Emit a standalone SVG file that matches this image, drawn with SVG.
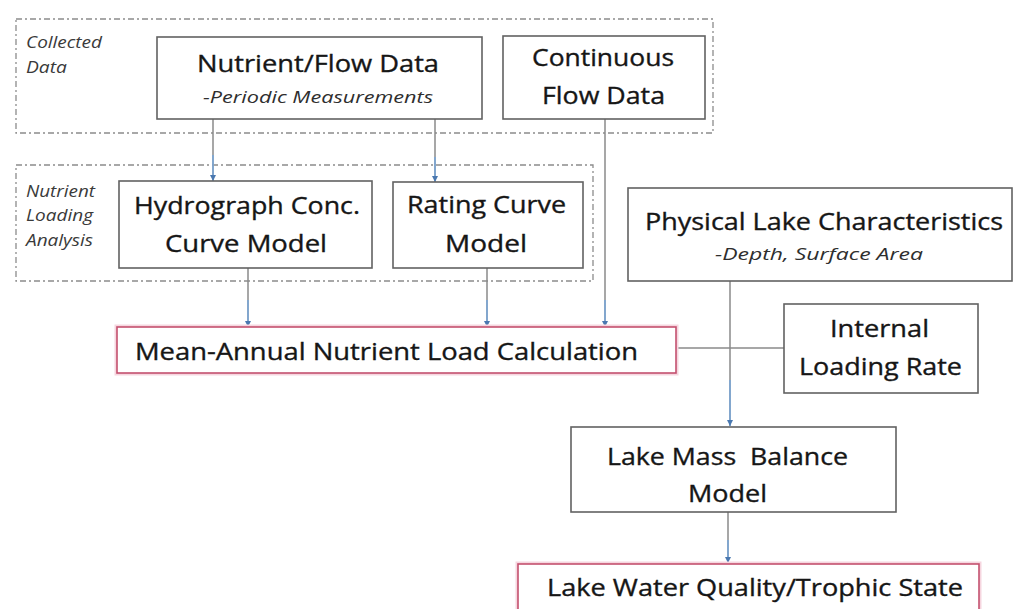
<svg xmlns="http://www.w3.org/2000/svg" width="1013" height="609" viewBox="0 0 1013 609">
<style>
.grp{fill:none;stroke:#8c8c8c;stroke-width:1.3;stroke-dasharray:6 3 2 3}
.box{fill:#fff;stroke:#626262;stroke-width:1.6}
.pbox{fill:#fff;stroke:#c4506e;stroke-width:1.6}
.glow{fill:none;stroke:#f6d6df;stroke-width:5}
.t{font-family:"Open Sans","Noto Sans",sans-serif;font-size:24px;fill:#161616;stroke:#161616;stroke-width:0.35}
.s{font-family:"Open Sans","Noto Sans",sans-serif;font-size:15.5px;font-style:italic;fill:#2e2e2e}
.lbl{font-family:"Open Sans","Noto Sans",sans-serif;font-size:17px;font-style:italic;fill:#3a3a3a}
.ln{fill:none;stroke:#8a8a8a;stroke-width:1.5}
.bl{fill:none;stroke:#7aa7d8;stroke-width:1.6}
</style>
<defs>
<marker id="ah" viewBox="0 0 6 6" refX="6" refY="3" markerWidth="6" markerHeight="6" markerUnits="userSpaceOnUse" orient="auto">
<path d="M0,0 L6,3 L0,6 Z" fill="#4a78b0"/>
</marker>
</defs>
<rect width="1013" height="609" fill="#fff"/>

<g id="group-collected">
<rect class="grp" x="16" y="19" width="697" height="114"/>
<text class="lbl" x="26" y="48" textLength="76" lengthAdjust="spacingAndGlyphs">Collected</text>
<text class="lbl" x="26" y="73" textLength="41" lengthAdjust="spacingAndGlyphs">Data</text>
</g>
<g id="group-loading">
<rect class="grp" x="16" y="165" width="577" height="116"/>
<text class="lbl" x="26" y="197" textLength="69" lengthAdjust="spacingAndGlyphs">Nutrient</text>
<text class="lbl" x="26" y="221" textLength="67" lengthAdjust="spacingAndGlyphs">Loading</text>
<text class="lbl" x="26" y="246" textLength="67" lengthAdjust="spacingAndGlyphs">Analysis</text>
</g>

<g id="connectors">
<path class="ln" d="M213,119 V181"/>
<path class="bl" d="M213,155 V181" marker-end="url(#ah)"/>
<path class="ln" d="M435,119 V182"/>
<path class="bl" d="M435,157 V182" marker-end="url(#ah)"/>
<path class="ln" d="M605,119 V327"/>
<path class="bl" d="M605,300 V327" marker-end="url(#ah)"/>
<path class="ln" d="M248,268 V327"/>
<path class="bl" d="M248,300 V327" marker-end="url(#ah)"/>
<path class="ln" d="M487,267 V327"/>
<path class="bl" d="M487,300 V327" marker-end="url(#ah)"/>
<path class="ln" d="M730,281 V426"/>
<path class="bl" d="M730,380 V426" marker-end="url(#ah)"/>
<path class="ln" d="M676,348 H784"/>
<path class="ln" d="M728,512 V563"/>
<path class="bl" d="M728,540 V563" marker-end="url(#ah)"/>
</g>

<g id="node-nutrient-flow">
<rect class="box" x="157" y="37" width="325" height="82"/>
<text class="t" x="197" y="72" textLength="242" lengthAdjust="spacingAndGlyphs">Nutrient/Flow Data</text>
<text class="s" x="203" y="103" textLength="230" lengthAdjust="spacingAndGlyphs">-Periodic Measurements</text>
</g>
<g id="node-continuous">
<rect class="box" x="503" y="36" width="202" height="83"/>
<text class="t" x="532" y="66" textLength="142" lengthAdjust="spacingAndGlyphs">Continuous</text>
<text class="t" x="542" y="104" textLength="123" lengthAdjust="spacingAndGlyphs">Flow Data</text>
</g>
<g id="node-hydrograph">
<rect class="box" x="119" y="181" width="253" height="87"/>
<text class="t" x="134" y="214" textLength="226" lengthAdjust="spacingAndGlyphs">Hydrograph Conc.</text>
<text class="t" x="165" y="252" textLength="162" lengthAdjust="spacingAndGlyphs">Curve Model</text>
</g>
<g id="node-rating">
<rect class="box" x="393" y="182" width="190" height="86"/>
<text class="t" x="407" y="213" textLength="159" lengthAdjust="spacingAndGlyphs">Rating Curve</text>
<text class="t" x="445" y="252" textLength="82" lengthAdjust="spacingAndGlyphs">Model</text>
</g>
<g id="node-physical">
<rect class="box" x="628" y="188" width="384" height="93"/>
<text class="t" x="645" y="230" textLength="358" lengthAdjust="spacingAndGlyphs">Physical Lake Characteristics</text>
<text class="s" x="715" y="260" textLength="208" lengthAdjust="spacingAndGlyphs">-Depth, Surface Area</text>
</g>
<g id="node-mean-annual">
<rect class="glow" x="117" y="327" width="559" height="46"/>
<rect class="pbox" x="117" y="327" width="559" height="46"/>
<text class="t" x="135" y="360" textLength="503" lengthAdjust="spacingAndGlyphs">Mean-Annual Nutrient Load Calculation</text>
</g>
<g id="node-internal">
<rect class="box" x="784" y="304" width="194" height="89"/>
<text class="t" x="830" y="337" textLength="99" lengthAdjust="spacingAndGlyphs">Internal</text>
<text class="t" x="799" y="375" textLength="163" lengthAdjust="spacingAndGlyphs">Loading Rate</text>
</g>
<g id="node-mass-balance">
<rect class="box" x="571" y="427" width="325" height="85"/>
<text class="t" x="607" y="465" textLength="241" lengthAdjust="spacingAndGlyphs" xml:space="preserve">Lake Mass  Balance</text>
<text class="t" x="688" y="502" textLength="79" lengthAdjust="spacingAndGlyphs">Model</text>
</g>
<g id="node-water-quality">
<rect class="glow" x="518" y="564" width="461" height="50"/>
<rect class="pbox" x="518" y="564" width="461" height="50"/>
<text class="t" x="547" y="596" textLength="416" lengthAdjust="spacingAndGlyphs">Lake Water Quality/Trophic State</text>
</g>
</svg>
